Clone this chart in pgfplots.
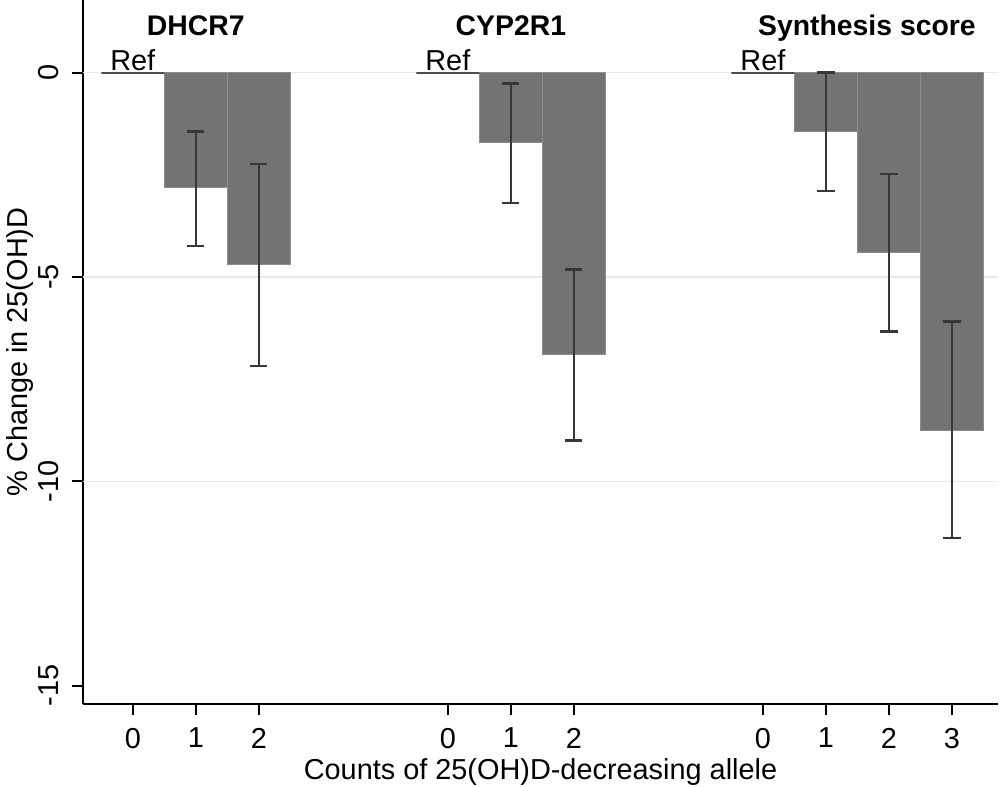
\documentclass[border=0pt]{standalone}
\usepackage{fontspec}
\setmainfont{Liberation Sans}
\usepackage{pgfplots}
\pgfplotsset{compat=1.18}
\usepackage{pgfplotstable}

\definecolor{barfill}{RGB}{115,115,115}
\definecolor{baredge}{RGB}{140,140,140}
\definecolor{errcol}{RGB}{55,55,55}
\definecolor{gridcol}{RGB}{232,232,232}

% x: position (groups at 0-2, 5-7, 10-13), y: % change, ep/em: CI above/below
\pgfplotstableread{
x   y      ep    em
1   -2.82  1.38  1.42
2   -4.70  2.47  2.48
6   -1.70  1.44  1.49
7   -6.90  2.08  2.10
11  -1.44  1.44  1.45
12  -4.39  1.91  1.94
13  -8.76  2.67  2.63
}\effects

\pgfplotstableread{
x  y
0  0
5  0
10 0
}\refs

\begin{document}
\fontsize{11.5pt}{13.5pt}\selectfont
\begin{tikzpicture}
\begin{axis}[
  name=ax,
  scale only axis,
  width=12.81cm, height=9.856cm,
  xmin=-0.79, xmax=13.73,
  ymin=-15.45, ymax=1.78,
  axis x line*=bottom, axis y line*=left,
  axis line style={line width=0.8pt, black},
  tick align=outside,
  major tick length=0.16cm,
  tick style={line width=0.8pt, black},
  xtick={0,1,2,5,6,7,10,11,12,13},
  xticklabels={0,1,2,0,1,2,0,1,2,3},
  ytick={0,-5,-10,-15},
  yticklabel style={rotate=90, anchor=south, yshift=1pt},
  xticklabel style={yshift=-1pt},
  /pgf/number format/assume math mode=true,
  extra y ticks={0,-5,-10},
  extra y tick labels={},
  extra y tick style={ymajorgrids=true, major tick length=0pt},
  major grid style={gridcol, line width=0.5pt},
  xlabel={Counts of 25(OH)D-decreasing allele},
  ylabel={\% Change in 25(OH)D},
  xlabel style={at={(rel axis cs:0.5,0)}, anchor=base, yshift=-1.06cm},
  ylabel style={at={(rel axis cs:0,0.5)}, anchor=center, yshift=0.88cm},
  clip=false,
]
\addplot[ybar, bar shift=0pt, bar width=1, fill=barfill, draw=baredge,
  line width=0.4pt,
  error bars/.cd, y dir=both, y explicit,
  error bar style={errcol, line width=1pt},
  error mark options={errcol, rotate=90, mark size=3.4pt, line width=1pt}]
  table[x=x, y=y, y error plus=ep, y error minus=em] {\effects};
\addplot[ybar, bar shift=0pt, bar width=1, fill=none, draw=black!70,
  line width=0.8pt] table[x=x, y=y] {\refs};

\node[anchor=base] at (axis cs:0,0.05) {Ref};
\node[anchor=base] at (axis cs:5,0.05) {Ref};
\node[anchor=base] at (axis cs:10,0.05) {Ref};

\node[font=\fontsize{11.3pt}{13pt}\selectfont\bfseries, anchor=base] at (axis cs:1,0.9) {DHCR7};
\node[font=\fontsize{11.3pt}{13pt}\selectfont\bfseries, anchor=base] at (axis cs:6,0.9) {CYP2R1};
\node[font=\fontsize{11.3pt}{13pt}\selectfont\bfseries, anchor=base] at (axis cs:11.65,0.9) {Synthesis score};
\end{axis}
\pgfresetboundingbox
\path[use as bounding box] ([shift={(-1.162cm,-1.162cm)}]ax.south west) rectangle ([shift={(0.028cm,0cm)}]ax.north east);
\end{tikzpicture}
\end{document}
